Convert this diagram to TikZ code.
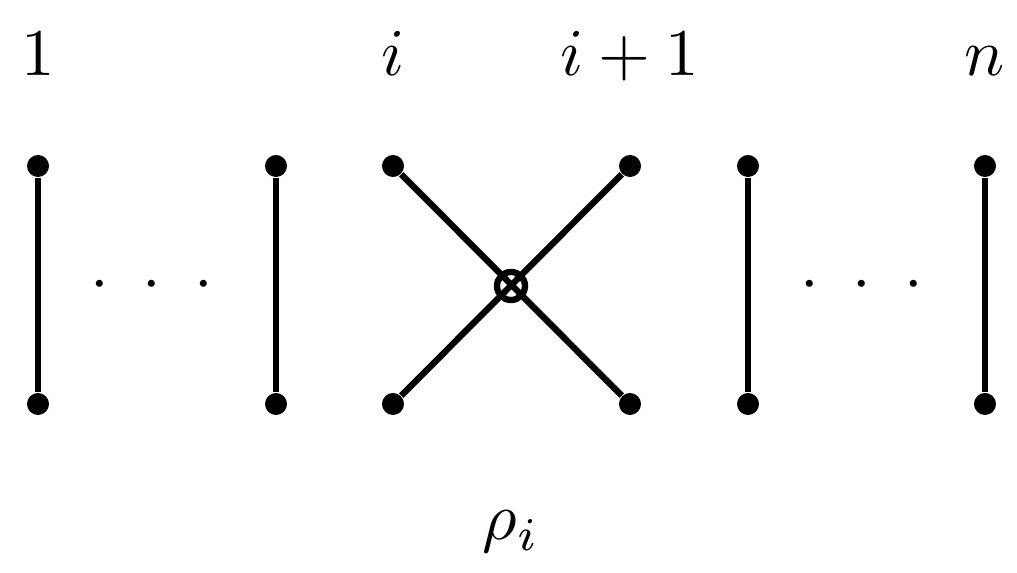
\documentclass[tikz,border=0pt]{standalone}
\begin{document}
\begin{tikzpicture}[x=0.01cm,y=-0.01cm,
  dotn/.style={circle,fill=black,inner sep=0pt,minimum size=0.22cm},
  strand/.style={line width=1.8pt},
  lab/.style={scale=1.9,inner sep=0pt}]
\useasboundingbox (0,0) rectangle (1017,573);
\foreach \n/\x in {a/38,b/276,c/393,d/630,e/748,f/985}{
  \node[dotn] (\n t) at (\x,166) {};
  \node[dotn] (\n b) at (\x,404) {};
}
\draw[strand] (at)--(ab);
\draw[strand] (bt)--(bb);
\draw[strand] (et)--(eb);
\draw[strand] (ft)--(fb);
\draw[strand] (ct)--(db);
\draw[strand] (dt)--(cb);
\node[circle,draw,line width=1.8pt,minimum size=0.28cm,inner sep=0pt] (x) at (511,286) {};
\node[lab] (d1) at (152,286) {$\cdot\;\cdot\;\cdot$};
\node[lab] (d2) at (862,286) {$\cdot\;\cdot\;\cdot$};
\node[lab,anchor=base] (l1) at (38,76) {$1$};
\node[lab,anchor=base] (l2) at (393,76) {$i$};
\node[lab,anchor=base] (l3) at (630,76) {$i+1$};
\node[lab,anchor=base] (l4) at (985,76) {$n$};
\node[lab,anchor=base] (r) at (511,540) {$\rho_i$};
\end{tikzpicture}
\end{document}
